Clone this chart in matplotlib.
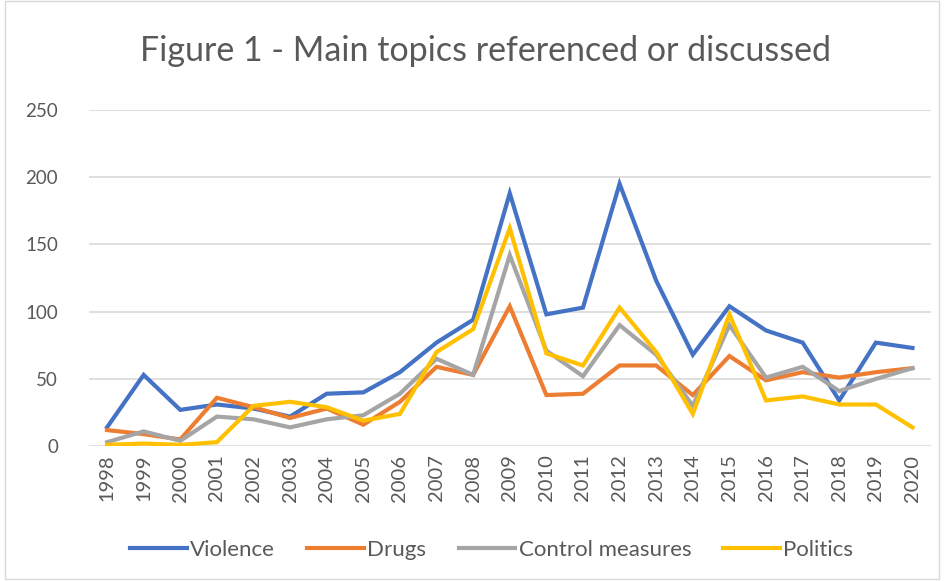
import matplotlib
matplotlib.use("Agg")
import matplotlib.pyplot as plt
from matplotlib.patches import Rectangle

years = [str(y) for y in range(1998, 2021)]

violence = [14, 53, 27, 31, 28, 22, 39, 40, 55, 77, 94, 188, 98, 103, 195, 123, 68, 104, 86, 77, 34, 77, 73]
drugs    = [12, 9, 5, 36, 29, 21, 28, 16, 33, 59, 53, 104, 38, 39, 60, 60, 38, 67, 49, 55, 51, 55, 58]
control  = [3, 11, 4, 22, 20, 14, 20, 23, 39, 65, 53, 142, 71, 52, 90, 68, 30, 90, 51, 59, 41, 50, 58]
politics = [1, 2, 1, 3, 30, 33, 29, 19, 24, 70, 87, 162, 69, 60, 103, 70, 24, 98, 34, 37, 31, 31, 14]

series = [
    ("Violence", violence, "#4472C4"),
    ("Drugs", drugs, "#ED7D31"),
    ("Control measures", control, "#A5A5A5"),
    ("Politics", politics, "#FFC000"),
]

plt.rcParams["font.family"] = ["Lato", "DejaVu Sans"]
text_col = "#595959"

fig = plt.figure(figsize=(9.44, 5.81), dpi=100)
ax = fig.add_axes([0.094, 0.232, 0.892, 0.579])

x = list(range(len(years)))
for name, vals, col in series:
    ax.plot(x, vals, color=col, linewidth=3.0, label=name, solid_joinstyle="miter")

ax.set_xlim(-0.5, len(years) - 0.5)
ax.set_ylim(0, 250)
ax.set_yticks(range(0, 251, 50))
ax.set_xticks(x)
ax.set_xticklabels(years, rotation=90)
ax.tick_params(axis="both", length=0, labelsize=13.5, colors=text_col)
ax.tick_params(axis="x", labelsize=14.5, pad=6)
ax.tick_params(axis="y", pad=22)
ax.grid(axis="y", color="#D9D9D9", linewidth=1.2)
ax.set_axisbelow(True)
for s in ax.spines.values():
    s.set_visible(False)

fig.suptitle("Figure 1 - Main topics referenced or discussed", x=0.514, y=0.94,
             fontsize=24.5, color=text_col)

leg = fig.legend(loc="center", bbox_to_anchor=(0.521, 0.053), ncol=4, frameon=False,
                 fontsize=16, handlelength=2.55, handletextpad=0.15, columnspacing=1.45)
for t in leg.get_texts():
    t.set_color(text_col)

fig.patches.append(Rectangle((0.005, 0.004), 0.99, 0.994, transform=fig.transFigure,
                             fill=False, edgecolor="#D9D9D9", linewidth=1))

fig.savefig("out.png", dpi=100)
